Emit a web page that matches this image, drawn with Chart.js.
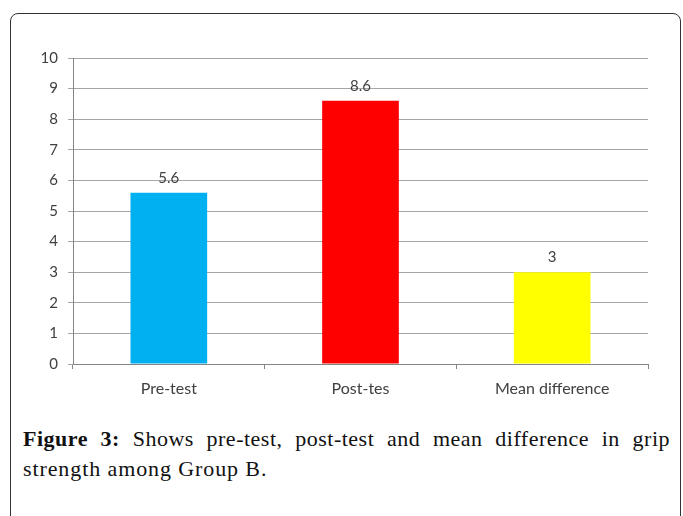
<!DOCTYPE html>
<html>
<head>
<meta charset="utf-8">
<script src="https://cdn.jsdelivr.net/npm/chart.js@4"></script>
<style>
  html, body { margin: 0; padding: 0; background: #fff; width: 683px; height: 516px; overflow: hidden; }
  #frame { position: absolute; left: 10px; top: 13px; width: 671px; height: 540px; border: 1.5px solid #333; border-radius: 8px; box-sizing: border-box; }
  #wrap { position: absolute; left: 0; top: 0; width: 683px; height: 410px; }
  .cap { position: absolute; left: 23px; width: 647px; font-family: "Liberation Serif", "DejaVu Serif", serif; font-size: 22px; letter-spacing: 0.9px; line-height: 30px; color: #111; white-space: nowrap; }
  #cap1 { top: 424px; text-align: justify; text-align-last: justify; white-space: normal; letter-spacing: 0.5px; }
  #cap2 { top: 454px; text-align: left; }
  .cap b { font-weight: bold; }
</style>
</head>
<body>
<div id="frame"></div>
<div id="wrap"><canvas id="c" width="683" height="410"></canvas></div>
<div class="cap" id="cap1"><b>Figure 3:</b> Shows pre-test, post-test and mean difference in grip</div>
<div class="cap" id="cap2">strength among Group B.</div>
<script>
const categories = ["Pre-test", "Post-tes", "Mean difference"];
const values = [5.6, 8.6, 3];
const barColors = ["#00B0F0", "#FF0000", "#FFFF00"];
const yTicks = [0, 1, 2, 3, 4, 5, 6, 7, 8, 9, 10];

const valueLabels = {
  id: "valueLabels",
  afterDatasetsDraw(chart) {
    const ctx = chart.ctx;
    const meta = chart.getDatasetMeta(0);
    ctx.save();
    ctx.font = "15px Lato, 'Open Sans', sans-serif";
    ctx.fillStyle = "#404040";
    ctx.textAlign = "center";
    ctx.textBaseline = "alphabetic";
    meta.data.forEach((bar, i) => {
      ctx.fillText(String(values[i]), bar.x, bar.y - 10);
    });
    ctx.restore();
  }
};

new Chart(document.getElementById("c"), {
  type: "bar",
  plugins: [valueLabels],
  data: {
    labels: categories,
    datasets: [{
      data: values,
      backgroundColor: barColors,
      borderWidth: 0,
      categoryPercentage: 1,
      barPercentage: 0.4
    }]
  },
  options: {
    responsive: false,
    animation: false,
    devicePixelRatio: 1,
    layout: { padding: { left: 0, right: 35, top: 58, bottom: 0 } },
    plugins: { legend: { display: false }, tooltip: { enabled: false } },
    scales: {
      x: {
        offset: true,
        grid: { offset: true, drawOnChartArea: false, drawTicks: true, tickLength: 5, color: "#868686" },
        border: { color: "#868686", width: 1 },
        ticks: { color: "#404040", font: { family: "Lato, 'Open Sans', sans-serif", size: 16 }, padding: 10 },
        afterFit(scale) { scale.height = 46; }
      },
      y: {
        min: 0, max: 10,
        afterBuildTicks(scale) { scale.ticks = yTicks.map(v => ({ value: v })); },
        grid: { color: "#a6a6a6", tickLength: 5, lineWidth: 1 },
        border: { color: "#868686", width: 1 },
        ticks: { color: "#404040", font: { family: "Lato, 'Open Sans', sans-serif", size: 15 }, padding: 10 },
        afterFit(scale) { scale.width = 73; }
      }
    }
  }
});
</script>
</body>
</html>
